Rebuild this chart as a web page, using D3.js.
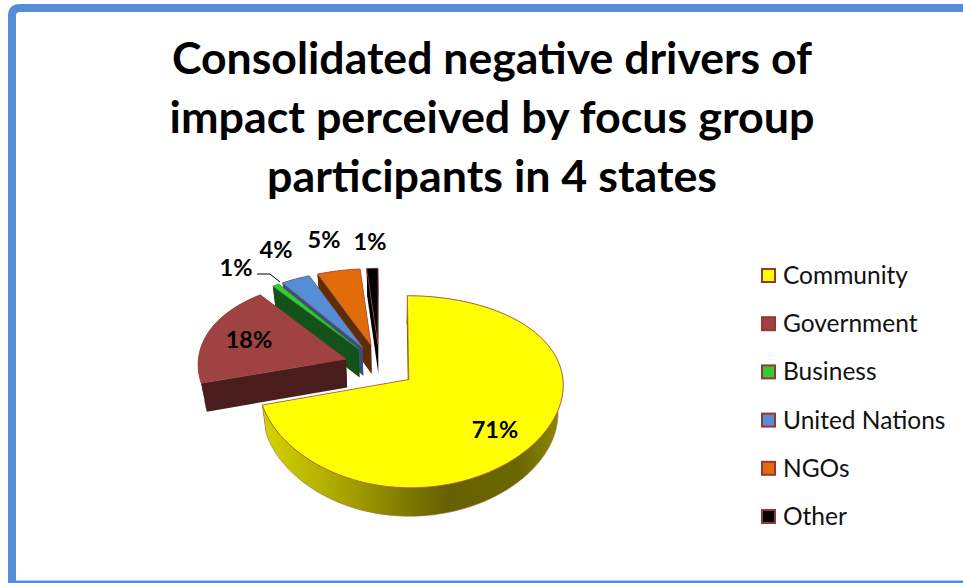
<!DOCTYPE html>
<html><head><meta charset="utf-8">
<script src="https://cdn.jsdelivr.net/npm/d3@7"></script>
<style>html,body{margin:0;padding:0;background:#fff;overflow:hidden}svg{display:block}text{font-family:Lato,"Open Sans",sans-serif}</style>
</head><body><svg id="c" width="963" height="583"></svg>
<script>
const categories = ["Community","Government","Business","United Nations","NGOs","Other"];
const values = [70.8,18.7,0.8,3.4,5,1.3];
const sliceLabels = ["71%","18%","1%","4%","5%","1%"];
const titleLines = ["Consolidated negative drivers of","impact perceived by focus group","participants in 4 states"];

const topColors = ["#ffff00","#a04242","#33cc33","#558ed5","#e36c0a","#000000"];
const wallColors = ["#6b6600","#4a1d1d","#15521a","#3a4f78","#5e2d05","#000000"];
const edgeColors = ["#a5504a","#a04242","#3a8f3a","#7a5f8a","#a5504a","#a04242"];
const labelAt = [[495,430],[249,340],[236,268],[276,250],[324,240],[370,242]];
const titleWidths = [640,645,450];

const svg = d3.select("#c");
const defs = svg.append("defs");
const grad = defs.append("linearGradient").attr("id","rim").attr("gradientUnits","userSpaceOnUse")
  .attr("x1",261).attr("x2",563).attr("y1",0).attr("y2",0);
[[0,"#d6d300"],[0.2,"#b5b200"],[0.5,"#7b7600"],[0.62,"#666100"],[0.85,"#6b6700"],[1,"#8f8b00"]]
  .forEach(s=>grad.append("stop").attr("offset",s[0]).attr("stop-color",s[1]));

// frame
svg.append("path").attr("fill","none").attr("stroke","#558ed5").attr("stroke-width",8)
  .attr("d","M975,8 H20 Q12,8 12,16 V583");
svg.append("rect").attr("x",8).attr("y",580).attr("width",955).attr("height",3).attr("fill","#558ed5");
svg.append("rect").attr("x",16).attr("y",580).attr("width",947).attr("height",1).attr("fill","#a9c4e8");

// title
svg.append("g").selectAll("text").data(titleLines).join("text")
  .attr("x",492).attr("y",(d,i)=>74+i*59).attr("text-anchor","middle")
  .attr("font-size",44).attr("font-weight",700).attr("fill","#000")
  .attr("textLength",(d,i)=>titleWidths[i]).attr("lengthAdjust","spacingAndGlyphs").text(d=>d);

// projected pie
const cx = 379.4;
const xs = d3.scaleLinear().domain([-1,0,1]).range([cx-148,cx,cx+153]);
const ys = d3.scaleLinear().domain([0,1]).range([366,457]);
const perspY = 0.125, perspX = 0.05, explode = 0.24, depth = 28.5, taper = 0.97;
const proj = (u,v,z=0)=>{
  const sx=1/(1-perspX*v), sy=1/(1-perspY*v);
  const x=xs(u*sx);
  return [z?cx+10+(x-cx-10)*taper:x, ys(v*sy)+z];
};
const arcs = d3.pie().sort(null).value(d=>d)(values);
const line = d3.line();

function geom(a){
  const mid=(a.startAngle+a.endAngle)/2;
  const ou=Math.sin(mid)*explode, ov=-Math.cos(mid)*explode;
  const steps=d3.range(0,Math.max(2,Math.ceil((a.endAngle-a.startAngle)/0.03))+1);
  const n=steps[steps.length-1];
  const rim=steps.map(i=>{const t=a.startAngle+(a.endAngle-a.startAngle)*i/n;return [ou+Math.sin(t),ov-Math.cos(t)];});
  return {apex:[ou,ov],rim};
}
const pieG = svg.append("g");
[5,4,3,2,1,0].forEach(i=>{
  const g=geom(arcs[i]), w=wallColors[i], e=edgeColors[i];
  const P=(p,z)=>proj(p[0],p[1],z);
  const wall=(a,b)=>line([P(a,0),P(b,0),P(b,depth),P(a,depth)])+"Z";
  const last=g.rim[g.rim.length-1];
  pieG.append("path").attr("d",wall(g.apex,last)).attr("fill",w);
  pieG.append("path").attr("d",line([...g.rim.map(p=>P(p,0)),...g.rim.slice().reverse().map(p=>P(p,depth))])+"Z")
    .attr("fill",i===0?"url(#rim)":w).attr("stroke",i===0?"#a5704a":"none").attr("stroke-width",0.6);
  pieG.append("path").attr("d",wall(g.apex,g.rim[0])).attr("fill",w);
  pieG.append("path").attr("d",line([P(g.apex,0),...g.rim.map(p=>P(p,0))])+"Z")
    .attr("fill",topColors[i]).attr("stroke",e).attr("stroke-width",0.8);
});

// leader line
svg.append("path").attr("d",line([[257,274],[270,274],[280,282]])).attr("fill","none").attr("stroke","#000").attr("stroke-width",1);

// slice labels
svg.append("g").selectAll("text").data(sliceLabels).join("text")
  .attr("x",(d,i)=>labelAt[i][0]).attr("y",(d,i)=>labelAt[i][1]+8).attr("text-anchor","middle")
  .attr("font-size",23.5).attr("font-weight",700).attr("fill","#000").text(d=>d);

// legend
const ly = d3.scalePoint().domain(categories).range([276,517]);
const lg = svg.append("g").selectAll("g").data(categories).join("g").attr("transform",d=>`translate(0,${ly(d)})`);
lg.append("rect").attr("x",762).attr("y",-7).attr("width",13).attr("height",13)
  .attr("fill",(d,i)=>topColors[i]).attr("stroke","#953735").attr("stroke-width",2);
lg.append("text").attr("x",783).attr("y",8).attr("font-size",24.5).attr("fill","#111").text(d=>d);
</script></body></html>
